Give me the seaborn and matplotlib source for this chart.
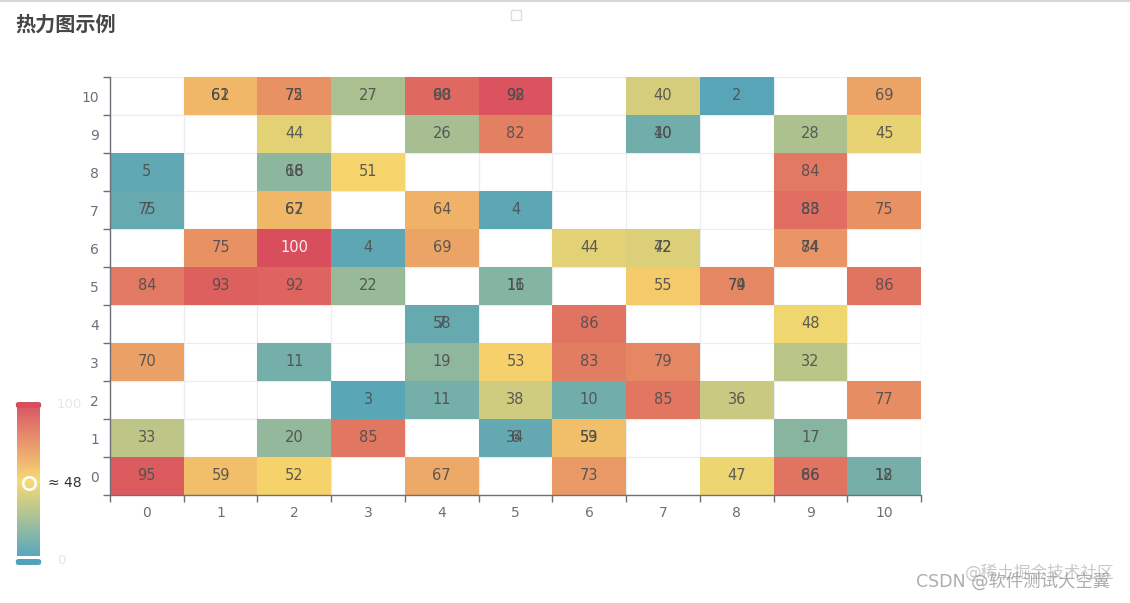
import numpy as np
import pandas as pd
import matplotlib
matplotlib.use("Agg")
import matplotlib.pyplot as plt
from matplotlib.colors import LinearSegmentedColormap
from matplotlib.patches import FancyBboxPatch, Rectangle
from matplotlib.lines import Line2D
import seaborn as sns

# ---------------- data (ECharts-style points: x, y, value; later points paint over earlier) ----
x_cats = [str(i) for i in range(11)]
y_cats = [str(i) for i in range(11)]
xs = [1, 1, 2, 2, 3, 4, 4, 5, 5, 7, 8, 10,
      2, 4, 5, 7, 7, 9, 10,
      0, 2, 2, 3, 9,
      0, 0, 2, 2, 4, 5, 9, 9, 10,
      1, 2, 3, 4, 6, 7, 7, 9, 9,
      0, 1, 2, 3, 5, 5, 7, 8, 8, 10,
      4, 4, 6, 9,
      0, 2, 4, 5, 6, 7, 9,
      3, 4, 5, 6, 7, 8, 10,
      0, 2, 3, 5, 5, 6, 6, 9,
      0, 1, 2, 4, 6, 8, 9, 9, 10, 10]
ys = [10] * 12 + [9] * 7 + [8] * 5 + [7] * 9 + [6] * 9 + [5] * 10 + [4] * 4 + \
     [3] * 7 + [2] * 7 + [1] * 8 + [0] * 10
vs = [61, 62, 72, 75, 27, 68, 90, 92, 98, 40, 2, 69,
      44, 26, 82, 40, 10, 28, 45,
      5, 66, 18, 51, 84,
      75, 7, 67, 62, 64, 4, 83, 88, 75,
      75, 100, 4, 69, 44, 72, 42, 84, 74,
      84, 93, 92, 22, 11, 16, 55, 74, 79, 86,
      58, 7, 86, 48,
      70, 11, 19, 53, 83, 79, 32,
      3, 11, 38, 10, 85, 36, 77,
      33, 20, 85, 34, 6, 53, 59, 17,
      95, 59, 52, 67, 73, 47, 66, 86, 18, 12]

title = "热力图示例"
vmin, vmax = 0, 100
range_colors = ["#50a3ba", "#f7d86c", "#d94e5d"]

# ---------------- figure ----------------
sns.set_theme(style="white")
plt.rcParams["font.family"] = ["DejaVu Sans", "Noto Sans CJK SC"]

fig = plt.figure(figsize=(11.30, 6.03), dpi=100)
ax = fig.add_axes([110 / 1130, 1 - 495 / 603, 811 / 1130, 418 / 603])
cax = fig.add_axes([17 / 1130, 1 - 556 / 603, 23 / 1130, 150 / 603])

df = pd.DataFrame({"x": xs, "y": ys, "v": vs})
grid = df.groupby(["y", "x"])["v"].last().unstack()
grid = grid.reindex(index=list(range(10, -1, -1)), columns=list(range(11)))

cmap = LinearSegmentedColormap.from_list("vm", range_colors)

# light split lines under the cells
for i in range(12):
    ax.axhline(i, color="#e9ecf2", lw=0.9, zorder=0)
    ax.axvline(i, color="#e9ecf2", lw=0.9, zorder=0)

sns.heatmap(grid, ax=ax, cmap=cmap, vmin=vmin, vmax=vmax, mask=grid.isna(),
            cbar=True, cbar_ax=cax, linewidths=0, square=False)

# labels for every point (overlapping ones drawn on top of each other)
for x, y, v in zip(xs, ys, vs):
    r = 10 - y
    col = "white" if v >= 100 else "#4d4d4d"
    ax.text(x + 0.5, r + 0.5, str(v), ha="center", va="center",
            fontsize=10.5, color=col, alpha=0.9, zorder=5)

# axes styling like ECharts category axes
for s in ["top", "right"]:
    ax.spines[s].set_visible(False)
for s in ["left", "bottom"]:
    ax.spines[s].set_visible(True)
    ax.spines[s].set_color("#6e7079")
    ax.spines[s].set_linewidth(1.0)

ax.set_xticks(np.arange(12))
ax.set_xticklabels([])
ax.set_yticks(np.arange(12))
ax.set_yticklabels([])
ax.set_xticks(np.arange(11) + 0.5, minor=True)
ax.set_xticklabels(x_cats, minor=True)
ax.set_yticks(np.arange(11) + 0.5, minor=True)
ax.set_yticklabels(y_cats[::-1], minor=True)
ax.tick_params(axis="both", which="major", length=5, width=1, color="#6e7079",
               direction="out", bottom=True, left=True)
ax.tick_params(axis="both", which="minor", length=0, labelsize=10,
               labelcolor="#6e7079", pad=8)
ax.tick_params(axis="y", which="minor", rotation=0)
ax.set_xlabel("")
ax.set_ylabel("")
ax.set_xlim(0, 11)
ax.set_ylim(11, 0)

# visual map (continuous) styling
cax.set_axis_off()
for coll in cax.collections:
    coll.set_alpha(0.95)
cb_l = 17 / 1130
cb_w = 23 / 1130
fig.patches.append(FancyBboxPatch((cb_l - 0.001, 1 - 408 / 603), cb_w + 0.002, 6 / 603,
                                  boxstyle="round,pad=0,rounding_size=0.003",
                                  transform=fig.transFigure, fc="#d94e5d", ec="none"))
fig.patches.append(FancyBboxPatch((cb_l - 0.001, 1 - 565 / 603), cb_w + 0.002, 6 / 603,
                                  boxstyle="round,pad=0,rounding_size=0.003",
                                  transform=fig.transFigure, fc="#50a3ba", ec="none"))
fig.text(57 / 1130, 1 - 404 / 603, "100", fontsize=9.5, color="#e6e6e6", va="center")
fig.text(57 / 1130, 1 - 561 / 603, "0", fontsize=9.5, color="#e6e6e6", va="center")
fig.add_artist(Line2D([29 / 1130], [1 - 483 / 603], marker="o", markersize=9,
                      markerfacecolor="none", markeredgecolor="white",
                      markeredgewidth=1.8, transform=fig.transFigure))
fig.text(48 / 1130, 1 - 483 / 603, "≈ 48", fontsize=10, color="#333333", va="center")

# title and page decorations
fig.text(15 / 1130, 1 - 24 / 603, title, fontsize=14.5, fontweight="bold",
         color="#464646", va="center", ha="left", family=["Noto Sans CJK SC"])
fig.add_artist(Line2D([0, 1], [1 - 1 / 603, 1 - 1 / 603], color="#d6d6d6", lw=1.5,
                      transform=fig.transFigure))
fig.patches.append(Rectangle((511 / 1130, 1 - 20 / 603), 10 / 1130, 10 / 603,
                             transform=fig.transFigure, fc="none", ec="#dddddd", lw=1))
fig.text(1115 / 1130, 1 - 573 / 603, "@稀土掘金技术社区", fontsize=12, color="#bbbbbb",
         ha="right", va="center", alpha=0.8)
fig.text(1110 / 1130, 1 - 582 / 603, "CSDN @软件测试大空翼", fontsize=12.5, color="#999999",
         ha="right", va="center", alpha=0.8)

fig.savefig("out.png", dpi=100, facecolor="white")
